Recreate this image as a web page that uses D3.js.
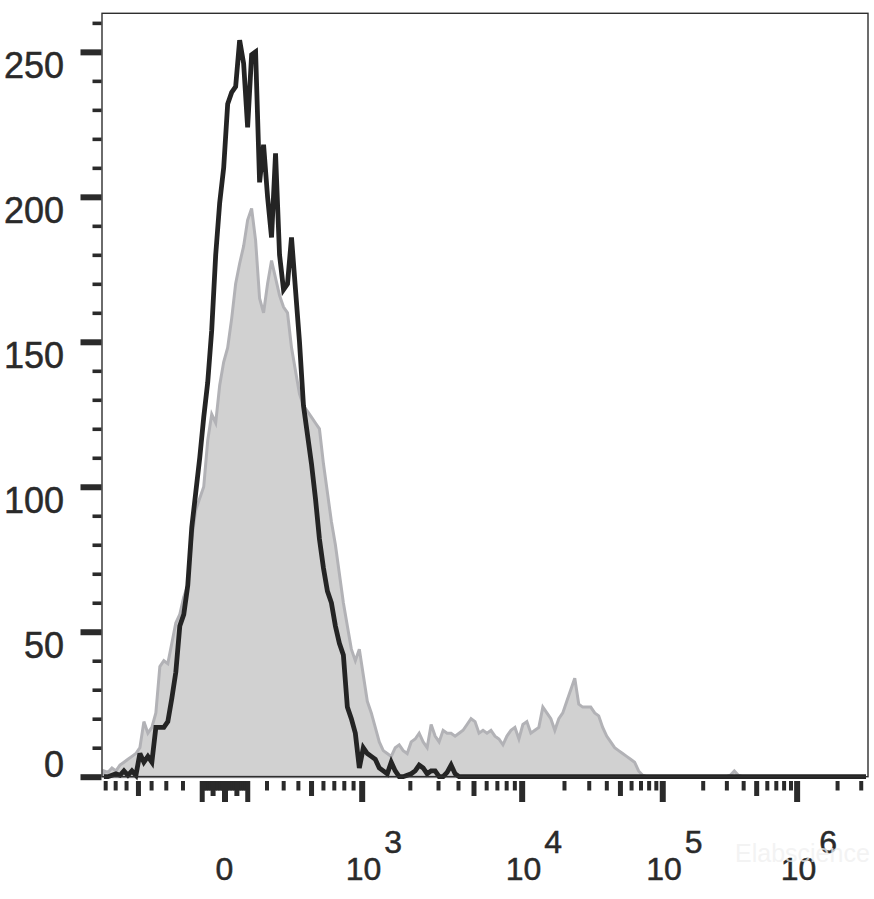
<!DOCTYPE html>
<html>
<head>
<meta charset="utf-8">
<script src="https://cdn.jsdelivr.net/npm/d3@7/dist/d3.min.js"></script>
<style>
  html, body { margin: 0; padding: 0; background: #fff; }
  svg { display: block; }
  text { font-family: "Liberation Sans", Arial, Helvetica, sans-serif; fill: #2a2a2a; }
  .lbl { stroke: #2a2a2a; stroke-width: 0.5px; }
</style>
</head>
<body>
<svg id="chart" width="874" height="899"></svg>
<script>
// ---------------- DATA ----------------
// Histogram counts per display channel (192 channels across the x axis)
const channelCount = 192;

const stainedCounts = [
  0, 0, 0.5, 1, 0.5, 2, 0.5, 2, 0.5, 8,
  5, 7, 5, 17, 17, 17, 19, 27, 36, 52,
  56, 66, 86, 98, 110, 124, 136, 154, 180, 198,
  210, 232, 236, 238, 254, 246, 224, 249, 250, 205,
  218, 200, 186, 215, 180, 168, 170, 186, 168, 150,
  128, 118, 108, 96, 82, 72, 64, 60, 52, 46,
  42, 24, 20, 15, 3, 10, 8, 7, 6, 3,
  2, 1, 5, 2, 0, 0, 0.5, 1, 2, 4,
  3, 1, 2, 2, 0, 0, 1.5, 4, 1, 0,
  0, 0, 0, 0, 0, 0, 0, 0, 0, 0,
  0, 0, 0, 0, 0, 0, 0, 0, 0, 0,
  0, 0, 0, 0, 0, 0, 0, 0, 0, 0,
  0, 0, 0, 0, 0, 0, 0, 0, 0, 0,
  0, 0, 0, 0, 0, 0, 0, 0, 0, 0,
  0, 0, 0, 0, 0, 0, 0, 0, 0, 0,
  0, 0, 0, 0, 0, 0, 0, 0, 0, 0,
  0, 0, 0, 0, 0, 0, 0, 0, 0, 0,
  0, 0, 0, 0, 0, 0, 0, 0, 0, 0,
  0, 0, 0, 0, 0, 0, 0, 0, 0, 0,
  0, 0
];

const controlCounts = [
  2, 1.5, 3, 2, 4, 5, 6, 7, 8, 10,
  19, 15, 17, 22, 38, 40, 39, 46, 53, 56,
  62, 66, 82, 92, 96, 100, 116, 125, 122, 135,
  143, 148, 158, 170, 177, 183, 192, 196, 185, 165,
  160, 170, 178, 172, 166, 162, 160, 148, 140, 132,
  128, 126, 124, 122, 120, 108, 98, 88, 80, 70,
  60, 52, 44, 40, 44, 35, 26, 22, 17, 12,
  9, 8, 7, 10, 11, 9, 8, 12, 13, 15,
  12, 10, 18, 14, 12, 16, 15, 15, 14, 15,
  16, 18, 20, 19, 15, 16, 15, 16, 14, 13,
  11, 14, 16, 17, 13, 18, 19, 15, 16, 17,
  24, 22, 20, 16, 20, 22, 26, 30, 34, 25,
  24, 24, 24, 22, 21, 17, 14, 12, 10, 9,
  8, 7, 6, 5, 2, 0.5, 0, 0, 0, 0,
  0, 0, 0, 0, 0, 0, 0, 0, 0, 0,
  0, 0, 0, 0, 0, 0, 0, 0.5, 2, 0.5,
  0, 0, 0, 0, 0, 0, 0, 0, 0, 0,
  0, 0, 0, 0, 0, 0, 0, 0, 0, 0,
  0, 0, 0, 0, 0, 0, 0, 0, 0, 0,
  0, 0
];

// Axis ticks
const yMajorTicks = [0, 50, 100, 150, 200, 250];
const yMinorTicks = [10, 20, 30, 40, 60, 70, 80, 90, 110, 120, 130, 140, 160, 170, 180, 190, 210, 220, 230, 240, 260];
const xLabelTicks = [0, 1e3, 1e4, 1e5, 1e6];
const xExtraMajorTicks = [-100, 100];
const xMediumTicks = [-500, -50, 50, 500, 5e3, 5e4, 5e5];
const xMinorTicks = [-900, -800, -700, -600, -400, -300, -200,
  -90, -80, -70, -60, -40, -30, -20, -10,
  10, 20, 30, 40, 60, 70, 80, 90,
  200, 300, 400, 600, 700, 800, 900,
  2e3, 3e3, 4e3, 6e3, 7e3, 8e3, 9e3,
  2e4, 3e4, 4e4, 6e4, 7e4, 8e4, 9e4,
  2e5, 3e5, 4e5, 6e5, 7e5, 8e5, 9e5,
  2e6, 3e6];
const yMax = 263.3;

// ---------------- LAYOUT ----------------
const svg = d3.select("#chart");
const plot = { left: 102, right: 868, top: 13.3, bottom: 776.7 };

const x = d3.scaleLinear().domain([0, channelCount]).range([plot.left, plot.right]);
const y = d3.scaleLinear().domain([0, yMax]).range([plot.bottom, plot.top]);

// Display transform (intensity -> channel): linear-ish near zero, logarithmic above 10^3
const g = v => {
  const a = Math.abs(v);
  const t = a < 1000 ? Math.log10(1 + a / 500) : Math.log10(3) + Math.log10(a / 1000);
  return Math.sign(v) * t;
};
const decadeValues = [-1e3, 0, 1e3, 1e4, 1e5, 1e6, 1e7];
const decadeChannels = [-3.68, 30.70, 65.09, 105.19, 140.43, 174.11, 207.79];
const xAxisScale = d3.scaleLinear()
  .domain(decadeValues.map(g))
  .range(decadeChannels.map(c => x(c)));

// clip
svg.append("defs").append("clipPath").attr("id", "clip")
  .append("rect").attr("x", plot.left).attr("y", plot.top - 2)
  .attr("width", plot.right - plot.left).attr("height", plot.bottom - plot.top + 6);

const gPlot = svg.append("g").attr("clip-path", "url(#clip)");

// control (filled gray)
const area = d3.area()
  .x((d, i) => x(i + 0.5))
  .y0(y(0))
  .y1(d => y(d));
gPlot.append("path")
  .datum(controlCounts)
  .attr("d", area)
  .attr("fill", "#d1d1d1")
  .attr("stroke", "#b2b2b6")
  .attr("stroke-width", 3)
  .attr("stroke-linejoin", "miter");

// frame
svg.append("rect")
  .attr("x", plot.left).attr("y", plot.top)
  .attr("width", plot.right - plot.left).attr("height", plot.bottom - plot.top)
  .attr("fill", "none").attr("stroke", "#2e2e2e").attr("stroke-width", 1.4);

// stained (black line)
const line = d3.line()
  .x((d, i) => x(i + 0.5))
  .y(d => y(d));
gPlot.append("path")
  .datum(stainedCounts)
  .attr("d", line)
  .attr("fill", "none")
  .attr("stroke", "#242424")
  .attr("stroke-width", 4.8)
  .attr("stroke-linejoin", "miter")
  .attr("stroke-miterlimit", 3);

// ---------------- Y AXIS ----------------
function styleAxis(sel, width) {
  sel.select(".domain").remove();
  sel.selectAll(".tick line").attr("stroke", "#2a2a2a").attr("stroke-width", width);
  sel.selectAll(".tick text").remove();
}
svg.append("g").attr("transform", `translate(${plot.left - 0.5},0)`)
  .call(d3.axisLeft(y).tickValues(yMinorTicks).tickSize(9).tickFormat(""))
  .call(s => styleAxis(s, 3.6));
svg.append("g").attr("transform", `translate(${plot.left - 0.5},0)`)
  .call(d3.axisLeft(y).tickValues(yMajorTicks).tickSize(21).tickFormat(""))
  .call(s => styleAxis(s, 6));

svg.append("g").selectAll("text")
  .data(yMajorTicks)
  .join("text")
  .attr("class", "lbl")
  .attr("x", 64)
  .attr("y", d => y(d) + (d === 0 ? 0 : 26))
  .attr("text-anchor", "end")
  .attr("font-size", 36)
  .text(d => d);

// ---------------- X AXIS ----------------
const xAxisY = 781;
const inRange = v => { const p = xAxisScale(g(v)); return p >= plot.left - 2 && p <= plot.right + 2; };
function xTicks(vals, size, width) {
  svg.append("g").attr("transform", `translate(0,${xAxisY})`)
    .call(d3.axisBottom(xAxisScale).tickValues(vals.filter(inRange).map(g)).tickSize(size).tickSizeOuter(0).tickFormat(""))
    .call(s => styleAxis(s, width));
}
xTicks(xMinorTicks, 9.5, 4);
xTicks(xMediumTicks, 15, 5);
xTicks(xExtraMajorTicks, 21, 5);
xTicks(xLabelTicks, 21, 6);

// x labels
const xl = svg.append("g");
xLabelTicks.forEach(v => {
  const px = xAxisScale(g(v));
  if (v === 0) {
    xl.append("text").attr("class", "lbl").attr("x", px).attr("y", 880).attr("text-anchor", "middle")
      .attr("font-size", 32).text("0");
  } else {
    const t = xl.append("text").attr("class", "lbl").attr("x", px - 16).attr("y", 880).attr("font-size", 32);
    t.append("tspan").text("10");
    t.append("tspan").attr("dx", 3).attr("dy", -27).text(String(Math.round(Math.log10(v))));
  }
});

// watermark (very faint, as in the reference)
svg.append("text")
  .attr("x", 735).attr("y", 862)
  .attr("font-size", 25)
  .style("fill", "rgba(240,240,240,0.8)")
  .text("Elabscience");
</script>
</body>
</html>
